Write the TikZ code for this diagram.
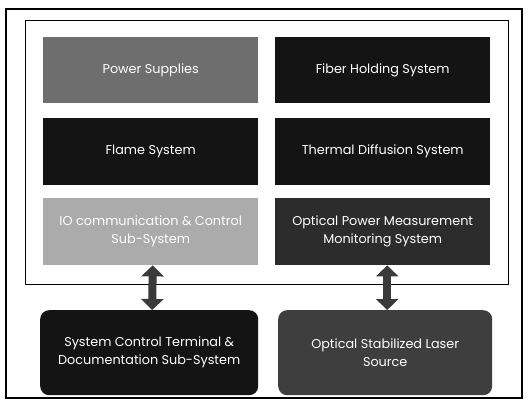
\documentclass[tikz,border=0pt]{standalone}
\usepackage{fontspec}
\setmainfont{Poppins}
\usetikzlibrary{arrows.meta}
\definecolor{cgray}{HTML}{6E6E6E}
\definecolor{clight}{HTML}{ABABAB}
\definecolor{cblack}{HTML}{141414}
\definecolor{cdark}{HTML}{2C2C2C}
\definecolor{cdark2}{HTML}{3E3E3E}
\definecolor{carrow}{HTML}{3A3A3A}
\tikzset{
  blk/.style={minimum width=215pt, minimum height=66pt, inner sep=2pt,
    text=white, font=\fontsize{12.8}{18}\selectfont, align=center, anchor=north west},
  rblk/.style={blk, rounded corners=9pt, minimum height=85pt},
  dblarrow/.style={draw=carrow, line width=8pt,
    {Triangle[length=11pt,width=22pt]}-{Triangle[length=11pt,width=22pt]}},
  frame/.style={draw=black, line width=1pt}
}
\begin{document}
\begin{tikzpicture}[x=1pt,y=-1pt]
\useasboundingbox (0,0) rectangle (528,404);
\fill[white] (0,0) rectangle (528,404);
\draw[frame, line width=1.4pt] (6,9) rectangle (522,398);
\draw[frame, line width=0.9pt] (25,20) rectangle (508,284);
\node[blk, fill=cgray] (ps) at (43,37) {Power Supplies};
\node[blk, fill=cblack] (fh) at (275,37) {Fiber Holding System};
\node[blk, fill=cblack, minimum height=67pt] (fl) at (43,118) {Flame System};
\node[blk, fill=cblack, minimum height=67pt] (td) at (275,118) {Thermal Diffusion System};
\node[blk, fill=clight, minimum height=67pt] (io) at (43,198) {IO communication \& Control\\Sub-System};
\node[blk, fill=cdark, minimum height=67pt] (op) at (275,198) {Optical Power Measurement\\Monitoring System};
\node[rblk, fill=cblack, minimum width=218pt] (sc) at (40,310) {System Control Terminal \&\\Documentation Sub-System};
\node[rblk, fill=cdark2, minimum width=214pt] (ol) at (278,310) {Optical Stabilized Laser\\Source};
\draw[dblarrow] ([xshift=2pt]io.south) -- ([xshift=3pt]sc.north);
\draw[dblarrow] ([xshift=4.5pt]op.south) -- ([xshift=2pt]ol.north);
\end{tikzpicture}
\end{document}
